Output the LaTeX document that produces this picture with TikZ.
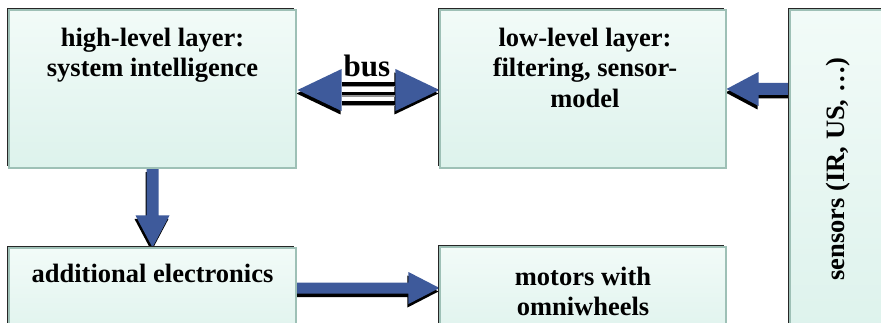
\documentclass[tikz,border=0pt]{standalone}
\usepackage{fontspec}
\setmainfont{Liberation Serif}
\usetikzlibrary{calc,shadows}
\definecolor{arrblue}{RGB}{62,90,155}
\definecolor{boxline}{RGB}{158,192,182}
\definecolor{boxtop}{RGB}{242,251,248}
\definecolor{boxbot}{RGB}{221,242,236}
\definecolor{stripegray}{RGB}{150,150,150}
\pgfdeclarelayer{bg}\pgfsetlayers{bg,main}
% #1 style, #2 start, #3 end, #4 shaft half width, #5 head half width, #6 head length, #7 offset
\newcommand\fatarr[7]{%
  \path[#1] let \p1=($(#2)+(#7)$), \p2=($(#3)+(#7)$),
    \n1={atan2(\y2-\y1,\x2-\x1)}, \n2={veclen(\x2-\x1,\y2-\y1)-#6} in
    ($(\p1)+(\n1+90:#4pt)$) -- ($(\p1)+(\n1:\n2)+(\n1+90:#4pt)$)
    -- ($(\p1)+(\n1:\n2)+(\n1+90:#5pt)$) -- (\p2)
    -- ($(\p1)+(\n1:\n2)+(\n1-90:#5pt)$) -- ($(\p1)+(\n1:\n2)+(\n1-90:#4pt)$)
    -- ($(\p1)+(\n1-90:#4pt)$) -- cycle;}
\begin{document}
\begin{tikzpicture}[x=1pt,y=-1pt,
  box/.style={rectangle, draw=boxline, line width=1.1pt, top color=boxtop, bottom color=boxbot, inner sep=0pt,
    drop shadow={shadow xshift=-1.6pt, shadow yshift=1.6pt, fill=black!85, opacity=1}},
  lbl/.style={font=\bfseries\fontsize{26.5}{30}\selectfont, anchor=base, inner sep=0pt}]
\useasboundingbox (0,0) rectangle (881,323);
\clip (0,0) rectangle (881,323);
% boxes
\node[box, minimum width=287pt, minimum height=158pt] (hl) at (152.5,89) {};
\node[box, minimum width=286pt, minimum height=158pt] (ll) at (583,89) {};
\node[box, minimum width=287pt, minimum height=100pt] (ae) at (152.5,298) {};
\node[box, minimum width=286pt, minimum height=100pt] (mo) at (583,297) {};
\node[box, minimum width=110pt, minimum height=330pt] (se) at (845,175) {};
% texts
\node[lbl] (t1) at (152.5,47) {high-level layer:};
\node[lbl] (t2) at (152.5,77) {system intelligence};
\node[lbl] (t3) at (585,47) {low-level layer:};
\node[lbl] (t4) at (585,77) {filtering, sensor-};
\node[lbl] (t5) at (585,108) {model};
\node[lbl] (t6) at (152.5,283) {additional electronics};
\node[lbl] (t7) at (583,285) {motors with};
\node[lbl] (t8) at (583,315) {omniwheels};
\node[lbl, rotate=90] (t9) at (844,169) {sensors (IR, US, …)};
\node[lbl, font=\bfseries\fontsize{31}{34}\selectfont] (bus) at (367,77) {bus};
% arrows
\begin{pgfonlayer}{bg}
\coordinate (sA) at (se.west |- ll.east);
\fatarr{fill=black}{sA}{ll.east}{6}{17}{32}{-1,3.5}
\fatarr{fill=arrblue}{sA}{ll.east}{6}{17}{32}{0,0}
\fatarr{fill=black}{hl.south}{ae.north}{6}{17}{32}{-1,3.5}
\fatarr{fill=arrblue}{hl.south}{ae.north}{6}{17}{32}{0,0}
\coordinate (rA) at ($(ae.east)+(0,-10)$);
\coordinate (rB) at (mo.west |- rA);
\fatarr{fill=black}{rA}{rB}{5.5}{16}{31}{-1,3.5}
\fatarr{fill=arrblue}{rA}{rB}{5.5}{16}{31}{0,0}
% bus
\coordinate (bL) at ($(hl.east)+(1,1)$);
\coordinate (bR) at (ll.west |- bL);
\fill[black] ($(bL)+(-1,3.5)$) -- ++(44,-21) -- ++(0,42) -- cycle;
\fill[black] ($(bR)+(-1,3.5)$) -- ++(-44,-21) -- ++(0,42) -- cycle;
\fill[arrblue] (bL) -- ++(44,-21) -- ++(0,42) -- cycle;
\fill[arrblue] (bR) -- ++(-44,-21) -- ++(0,42) -- cycle;
\foreach \yy in {-6,3.5,13}{
  \draw[stripegray, line width=1.5pt] ($(bL)+(44,\yy+2.5)$) -- ($(bR)+(-44,\yy+2.5)$);
  \draw[black, line width=3.2pt] ($(bL)+(44,\yy)$) -- ($(bR)+(-44,\yy)$);
}
\end{pgfonlayer}
\end{tikzpicture}
\end{document}
